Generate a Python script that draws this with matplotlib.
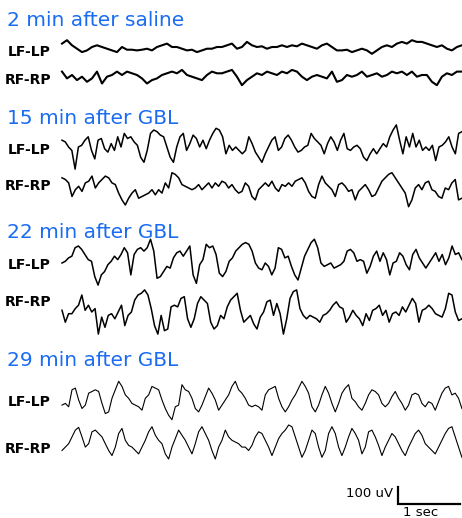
import matplotlib.pyplot as plt
import numpy as np

# EEG traces, amplitudes in uV, sampled evenly over the shown window
duration = 6.45  # sec per trace
titles = ['2 min after saline', '15 min after GBL', '22 min after GBL', '29 min after GBL']
channels = ['LF-LP', 'RF-RP']

saline_lf = [20, 40, 10, -10, -30, -20, 0, 10, 0, -10, -20, -30, 0, -16, -16, -20, -16, -10, -20, 0, 10,
             20, 0, 0, -10, -20, -16, -30, -20, -10, -10, 0, 0, 10, 20, -10, 0, 30, 10, 0, 4, -10, 0, 0,
             10, 0, 10, 4, 20, 10, 0, -10, 10, 20, 0, -20, -20, -16, -30, -20, -10, -20, -40, -20, 0, 10,
             0, 20, 30, 20, 40, 30, 30, 20, 10, 0, 10, -10, -20, 0, 10]
saline_rf = [20, -20, 0, -30, -10, -40, -20, 20, -50, -10, 0, 20, 0, 20, 10, 0, -20, -50, -30, -20, 0,
             10, 20, 10, 30, 0, -10, -20, -30, 0, 20, 10, 10, 20, 30, -10, -60, -30, -10, 10, 0, 20, 10,
             0, 20, 10, 30, 20, -10, -30, -10, 0, -10, -20, 20, -40, -30, 0, -10, 0, 20, -10, 0, 10, -10,
             0, 20, 10, 20, 0, 20, -10, 0, 0, -40, -60, -10, 10, 0, 20, 20]

gbl15_lf = [40, 30, 0, -20, -130, 0, 10, 40, 60, -20, -70, 40, 50, -10, -30, 20, -20, 60, 0, 80, 50, 60,
            30, 10, -60, -90, -20, 80, 100, 90, 70, 60, 0, -60, -90, 0, 60, 80, -20, 20, 70, 50, 0, 40,
            -10, 40, 80, 110, 100, 60, -40, 10, -20, 0, -20, -40, -20, 60, 20, -30, -60, -90, -40, 0, 40,
            60, -20, 0, 50, 70, 40, 0, -30, -20, 0, 10, 80, 50, 30, 10, -40, 20, 60, 30, -20, 40, 80, -10,
            -20, 0, 10, -10, -60, -80, -40, -10, -40, -10, 20, 0, 60, 100, 130, 40, -40, 60, 0, 80, 0, 40,
            -20, 0, -20, 10, -80, 0, 10, 30, 60, 0, -40, 80, 90]
gbl15_rf = [60, 50, 30, -50, -10, 10, -20, 30, 40, 70, 0, 30, 50, 70, 60, 30, 20, -30, -70, -100, -60,
            -30, -10, -60, -50, -40, -30, -10, -40, -10, -30, 30, 0, 90, 80, 60, 20, 10, 0, -10, 0, 20,
            -10, 10, 30, 0, 30, 10, 40, 30, 0, 20, -10, -30, -20, 30, 10, -50, -70, -10, 10, 30, 10, 40,
            0, -20, 20, 10, 30, 10, 40, 50, 60, 30, -20, -50, -60, 20, 70, 30, 10, -10, -50, 20, 30, 10,
            -20, -10, -70, -20, 0, 20, -10, -50, -40, 0, 40, 60, 80, 90, 60, 30, 0, -30, -110, -70, 0, 20,
            -10, 30, 40, -10, -20, -50, -60, 0, -10, 30, 50, -70, -60]

gbl22_lf = [0, 10, 30, 40, 90, 100, 80, 50, 20, 10, -80, -130, -70, -50, -10, 10, 40, 20, 50, 90, 60, -70,
            50, 80, 90, 70, 90, 140, 70, -90, -80, -50, -20, -30, 30, 60, 70, 40, 70, 100, -70, -120, -10,
            20, 110, 90, 100, 50, -60, -80, -50, 10, 30, 70, 90, 110, 120, 110, 70, 0, -30, -40, 0, -20,
            -70, -30, 90, 80, 30, 40, -20, -70, -100, -30, 40, 80, 120, 140, 90, 0, -20, -10, 0, -30, -20,
            -10, 10, 70, 80, 60, 10, 20, 10, -60, -20, 40, 70, 10, 60, 20, -70, 0, 10, 60, 40, -10, -40,
            50, 80, 30, 0, -30, 0, 30, 60, 10, 50, -10, 30, 100, 50, 60, 20]
gbl22_rf = [10, -60, -10, -10, 20, 40, 100, 10, 40, 0, 20, -130, -30, -90, -20, -10, -40, 0, 40, -80, -20,
            0, 70, 100, 110, 130, 100, 20, -80, -130, -20, -110, -100, 30, 40, 30, 80, 90, -40, -90, -40,
            50, 90, 70, 50, -60, -100, -80, -20, -40, 30, 70, 90, 110, 10, -60, -40, -20, -70, -100, -30,
            0, 60, 70, -20, 50, -10, -130, -40, 80, 120, 130, 20, -20, -40, -20, -30, -40, -60, -20, -10,
            10, 40, 60, 30, 20, -60, -30, 10, -20, -40, -80, -10, -50, 10, 20, 40, -20, 10, -60, -10, 0,
            -20, 30, 0, 40, 80, 50, -60, 10, 20, 40, 20, -10, -20, -30, 20, 110, 100, 0, -50, -40]

gbl29_lf = [-30, -20, -40, 60, 70, 0, -50, -30, 40, 50, 60, 50, -20, -80, -70, 10, 60, 110, 80, 30, 10,
            -20, -30, -40, -60, 10, 30, 80, 70, 60, 0, -50, -90, -116, -40, -30, 90, 60, 50, 10, -50, -70,
            -30, 20, 70, 40, 0, -60, -30, 0, 30, 80, 110, 60, 40, 10, -30, -40, -30, -40, -60, 30, 60, 70,
            80, 10, -40, -70, -40, 0, 30, 70, 110, 80, 40, -40, -70, -30, 30, 80, 40, -20, -70, -20, 40,
            70, 90, 10, -10, -40, -60, -20, 30, 60, 50, 30, -20, -40, -20, 20, 50, 10, -20, -60, -30, 30,
            40, 30, -20, -40, -10, -20, -60, -10, 40, 70, 80, 30, 40, 10, -50]
gbl29_rf = [-50, -30, -10, 30, 70, 86, 30, -30, -10, 60, 70, 50, 30, -10, -50, -80, -30, 50, 80, 10, -20,
            -30, -50, -70, -30, 10, 60, 90, 40, 10, -10, -70, -100, -30, 20, 70, 40, 10, -30, -70, -10, 60,
            90, 50, 10, -50, -100, -30, 10, 70, 30, 10, 0, -10, -30, -30, -50, -20, 30, 60, 50, 10, -30,
            -80, -30, 20, 50, 70, 100, 90, 30, -30, -90, -50, 10, 70, 50, -30, -90, -50, 50, 90, 50, -30,
            -80, -30, 30, 80, 50, 10, -70, -30, 60, 70, 30, -20, -80, -30, 10, 50, 30, -10, -50, -80, -30,
            10, 50, 70, 40, -10, -30, -50, -70, -30, 10, 50, 80, 90, 30, -30, -90]

traces = [(saline_lf, saline_rf), (gbl15_lf, gbl15_rf), (gbl22_lf, gbl22_rf), (gbl29_lf, gbl29_rf)]

# layout, in figure pixels
W, H = 462, 518
x0 = 62            # where the traces start
px_sec = 62        # 1 sec
px_uv = 0.17       # pixels per uV
title_y = [20, 118, 233, 361]
base_y = [(47, 75), (147, 188), (263, 312), (400, 442)]
label_y = [(52, 80), (150, 186), (265, 302), (402, 449)]
widths = [1.5, 1.1, 1.1, 0.8]

fig = plt.figure(figsize=(W / 100, H / 100), dpi=100)
ax = fig.add_axes([0, 0, 1, 1])
ax.set_xlim(-x0 / px_sec, (W - x0) / px_sec)   # seconds
ax.set_ylim(H / px_uv, 0)                        # uV from top
ax.axis('off')


def sx(px):
    return (px - x0) / px_sec


def sy(px):
    return px / px_uv


for i, title in enumerate(titles):
    ax.text(sx(7), sy(title_y[i]), title, color='#1a6cf2', fontsize=14.5,
            ha='left', va='center')
    for j, ch in enumerate(channels):
        amp = np.array(traces[i][j], dtype=float)
        t = np.linspace(0, duration, len(amp))
        ax.plot(t, sy(base_y[i][j]) - amp, color='black', lw=widths[i])
        ax.text(sx(51), sy(label_y[i][j]), ch, fontsize=10, fontweight='bold',
                ha='right', va='center')

# scale bar: 100 uV, 1 sec
bx, by = sx(398), sy(504)
ax.plot([bx, bx, bx + 1.0], [by - 100, by, by], color='black', lw=1.6,
        solid_joinstyle='miter')
ax.text(sx(393), sy(493), '100 uV', fontsize=9.5, ha='right', va='center')
ax.text(bx + 0.36, sy(512), '1 sec', fontsize=9.5, ha='center', va='center')

fig.savefig('out.png', dpi=100)
